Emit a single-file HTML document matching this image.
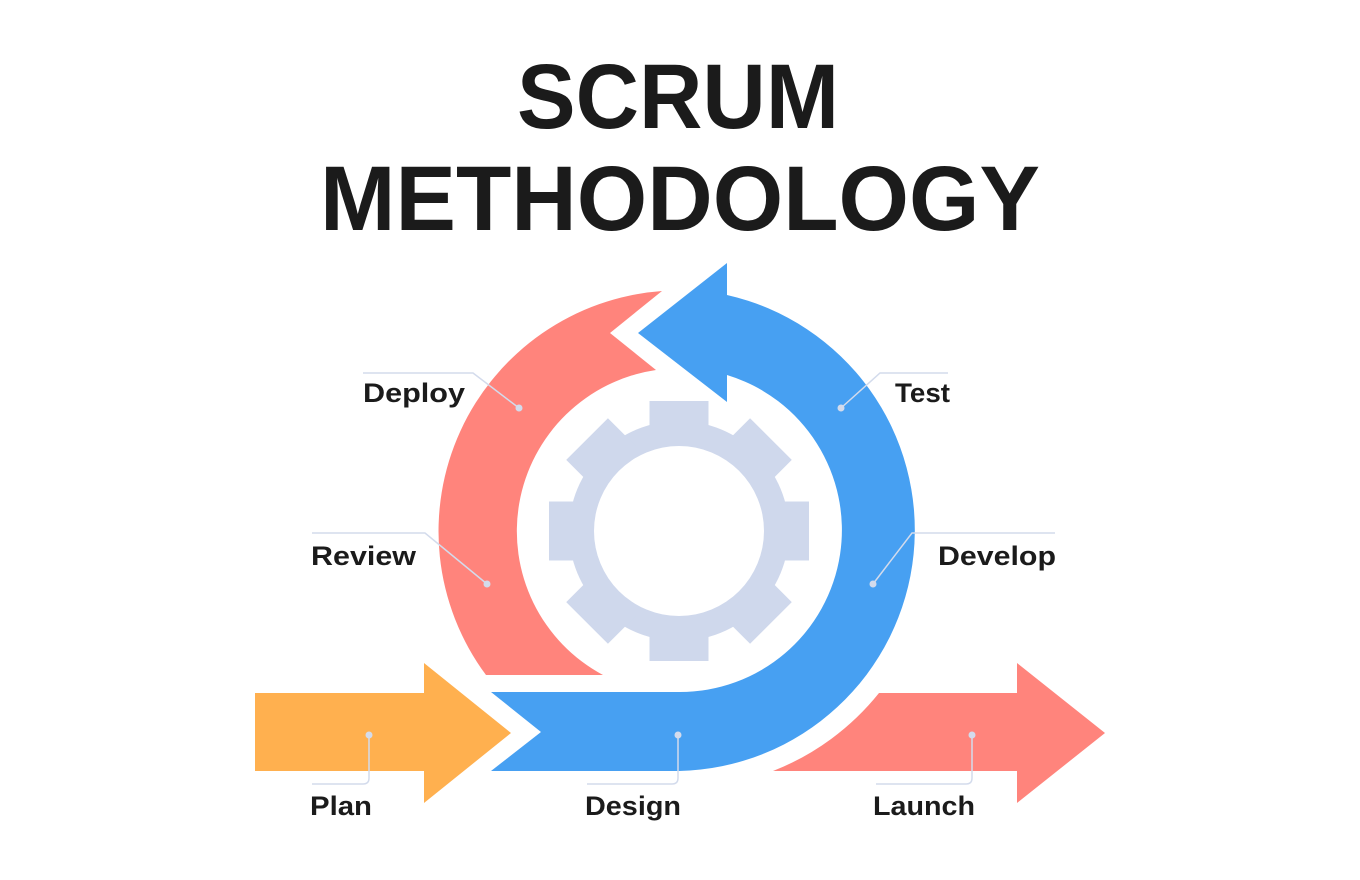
<!DOCTYPE html>
<html><head><meta charset="utf-8"><style>
html,body{margin:0;padding:0;background:#fff;}
svg{display:block;}
text{font-family:"Liberation Sans",sans-serif;font-weight:bold;fill:#1b1b1b;}
</style></head><body>
<svg width="1360" height="880" viewBox="0 0 1360 880" xmlns="http://www.w3.org/2000/svg">
<rect width="1360" height="880" fill="#fff"/>
<text x="678" y="128" font-size="92" text-anchor="middle" textLength="322" lengthAdjust="spacingAndGlyphs">SCRUM</text>
<text x="680" y="230" font-size="92" text-anchor="middle" textLength="720" lengthAdjust="spacingAndGlyphs">METHODOLOGY</text>

<!-- gear -->
<g fill="#cfd8ec">
<circle cx="679" cy="531" r="110"/>
<g id="t"><rect x="649.5" y="401" width="59" height="50"/></g>
<use href="#t" transform="rotate(45 679 531)"/>
<use href="#t" transform="rotate(90 679 531)"/>
<use href="#t" transform="rotate(135 679 531)"/>
<use href="#t" transform="rotate(180 679 531)"/>
<use href="#t" transform="rotate(225 679 531)"/>
<use href="#t" transform="rotate(270 679 531)"/>
<use href="#t" transform="rotate(315 679 531)"/>
</g>
<circle cx="679" cy="531" r="85" fill="#fff"/>

<!-- red arc -->
<path d="M486,675 A241,241 0 0 1 662,291 L610,333 L656,370 A163,163 0 0 0 603,675 Z" fill="#ff847c"/>
<!-- blue arc -->
<path d="M727,263 L727,295 A241,241 0 0 1 679,771 L491,771 L541,732 L491,692 L679,692 A162,162 0 0 0 727,375 L727,402 L638,333 Z" fill="#47a0f2"/>
<!-- plan -->
<path d="M255,693 L424,693 L424,663 L511,733 L424,803 L424,771 L255,771 Z" fill="#ffb04f"/>
<!-- launch -->
<path d="M773,771 A255,255 0 0 0 879,693 L1017,693 L1017,663 L1105,733 L1017,803 L1017,771 Z" fill="#ff847c"/>

<!-- leaders -->
<g fill="none" stroke="#d3dbec" stroke-width="1.5">
<path d="M363,373 L473,373 L519,408"/>
<path d="M948,373 L880,373 L841,408"/>
<path d="M312,533 L425,533 L487,584"/>
<path d="M1055,533 L912,533 L873,584"/>
<path d="M369,735 L369,778 Q369,784 363,784 L312,784"/>
<path d="M678,735 L678,778 Q678,784 672,784 L587,784"/>
<path d="M972,735 L972,778 Q972,784 966,784 L876,784"/>
</g>
<g fill="#d3dbec">
<circle cx="519" cy="408" r="3.5"/><circle cx="841" cy="408" r="3.5"/>
<circle cx="487" cy="584" r="3.5"/><circle cx="873" cy="584" r="3.5"/>
<circle cx="369" cy="735" r="3.5"/><circle cx="678" cy="735" r="3.5"/><circle cx="972" cy="735" r="3.5"/>
</g>

<g font-size="27">
<text x="363" y="402" textLength="102" lengthAdjust="spacingAndGlyphs">Deploy</text>
<text x="895" y="402" textLength="55" lengthAdjust="spacingAndGlyphs">Test</text>
<text x="311" y="565" textLength="105" lengthAdjust="spacingAndGlyphs">Review</text>
<text x="938" y="565" textLength="118" lengthAdjust="spacingAndGlyphs">Develop</text>
<text x="310" y="815" textLength="62" lengthAdjust="spacingAndGlyphs">Plan</text>
<text x="585" y="815" textLength="96" lengthAdjust="spacingAndGlyphs">Design</text>
<text x="873" y="815" textLength="102" lengthAdjust="spacingAndGlyphs">Launch</text>
</g>
</svg>
</body></html>
